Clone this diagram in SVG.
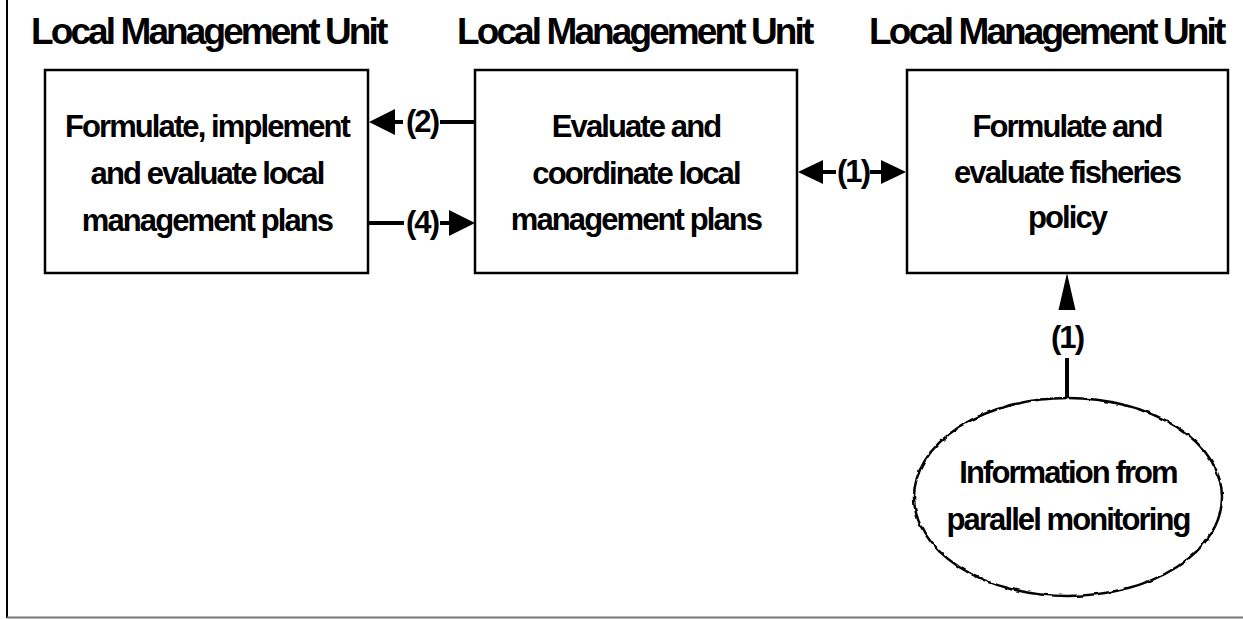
<svg xmlns="http://www.w3.org/2000/svg" width="1243" height="619" viewBox="0 0 1243 619">
  <style>
    .title { font-family: "Liberation Sans", Arial, sans-serif; font-weight: bold; font-size: 37px; letter-spacing: -2.9px; fill: #000; }
    .label { font-family: "Liberation Sans", Arial, sans-serif; font-weight: bold; font-size: 31px; letter-spacing: -1.9px; fill: #000; text-anchor: middle; }
    .box { fill: #fff; stroke: #000; stroke-width: 2.5; }
    .wire { stroke: #000; stroke-width: 4; fill: none; }
    .head { fill: #000; }
  </style>
  <defs>
    <filter id="rough" x="-5%" y="-5%" width="110%" height="110%">
      <feTurbulence type="fractalNoise" baseFrequency="0.14" numOctaves="1" seed="5" result="n"/>
      <feDisplacementMap in="SourceGraphic" in2="n" scale="3.5" xChannelSelector="R" yChannelSelector="G"/>
    </filter>
  </defs>

  <rect width="1243" height="619" fill="#fff"/>

  <!-- frame edges -->
  <line x1="7" y1="0" x2="7" y2="618" stroke="#000" stroke-width="2"/>
  <line x1="7" y1="617.5" x2="1243" y2="617.5" stroke="#777" stroke-width="2"/>

  <!-- unit headings -->
  <g id="headings">
    <text class="title" x="31" y="44">Local Management Unit</text>
    <text class="title" x="457" y="44">Local Management Unit</text>
    <text class="title" x="869" y="44">Local Management Unit</text>
  </g>

  <g id="local-plans">
    <rect class="box" x="45" y="70" width="323" height="203"/>
    <text class="label" x="207" y="137">Formulate, implement</text>
    <text class="label" x="207" y="184">and evaluate local</text>
    <text class="label" x="207" y="231">management plans</text>
  </g>

  <g id="coordinate">
    <rect class="box" x="475" y="70" width="322" height="203"/>
    <text class="label" x="636" y="137">Evaluate and</text>
    <text class="label" x="636" y="184">coordinate local</text>
    <text class="label" x="636" y="230">management plans</text>
  </g>

  <g id="policy">
    <rect class="box" x="907" y="70" width="321" height="203"/>
    <text class="label" x="1067" y="137">Formulate and</text>
    <text class="label" x="1067" y="183">evaluate fisheries</text>
    <text class="label" x="1067" y="228">policy</text>
  </g>

  <g id="monitoring">
    <ellipse cx="1068" cy="497" rx="154" ry="99" fill="#fff" stroke="#000" stroke-width="2.5" filter="url(#rough)"/>
    <text class="label" x="1068" y="483">Information from</text>
    <text class="label" x="1068" y="530">parallel monitoring</text>
  </g>

  <g id="connectors">
    <!-- (2): coordination unit back to local unit -->
    <path class="wire" d="M475 122 H440 M403 122 H392"/>
    <polygon class="head" points="369,122 395,109 395,135"/>
    <text class="label" x="422" y="132">(2)</text>

    <!-- (4): local unit up to coordination unit -->
    <path class="wire" d="M368 223 H404 M440 223 H450"/>
    <polygon class="head" points="475,223 449,210 449,236"/>
    <text class="label" x="422" y="233">(4)</text>

    <!-- (1): two-way link between coordination and policy -->
    <path class="wire" d="M820 172 H836 M870 172 H885"/>
    <polygon class="head" points="798,172 823,160 823,184"/>
    <polygon class="head" points="906,172 881,160 881,184"/>
    <text class="label" x="853" y="182">(1)</text>

    <!-- (1): monitoring feeds policy -->
    <path class="wire" d="M1067 397 V358" stroke-width="3"/>
    <polygon class="head" points="1067,273 1058.5,310 1075.5,310"/>
    <text class="label" x="1067" y="348">(1)</text>
  </g>
</svg>
